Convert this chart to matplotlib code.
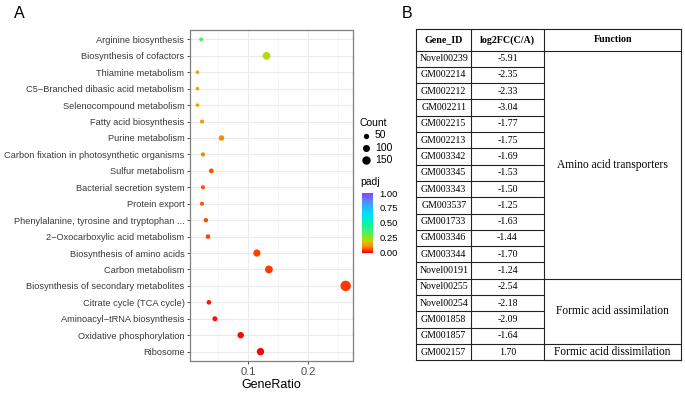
import matplotlib
matplotlib.use("Agg")
import matplotlib.pyplot as plt
import numpy as np
from matplotlib.colors import LinearSegmentedColormap

plt.rcParams['font.family'] = ['Liberation Sans', 'DejaVu Sans']

# ---- panel A data (KEGG enrichment) ----
pathways = ["Arginine biosynthesis", "Biosynthesis of cofactors", "Thiamine metabolism",
            "C5\u2212Branched dibasic acid metabolism", "Selenocompound metabolism",
            "Fatty acid biosynthesis", "Purine metabolism",
            "Carbon fixation in photosynthetic organisms", "Sulfur metabolism",
            "Bacterial secretion system", "Protein export",
            "Phenylalanine, tyrosine and tryptophan ...", "2\u2212Oxocarboxylic acid metabolism",
            "Biosynthesis of amino acids", "Carbon metabolism",
            "Biosynthesis of secondary metabolites", "Citrate cycle (TCA cycle)",
            "Aminoacyl\u2212tRNA biosynthesis", "Oxidative phosphorylation", "Ribosome"]
gene_ratio = [0.021, 0.130, 0.015, 0.015, 0.015, 0.0225, 0.055, 0.024, 0.038, 0.024,
              0.0225, 0.029, 0.0325, 0.114, 0.134, 0.262, 0.034, 0.044, 0.087, 0.120]
counts = [22, 125, 14, 14, 14, 24, 55, 25, 38, 25, 24, 30, 33, 108, 128, 240, 34, 43, 82, 112]
padj = [0.33, 0.21, 0.13, 0.13, 0.13, 0.12, 0.10, 0.09, 0.06, 0.06,
        0.065, 0.055, 0.05, 0.05, 0.045, 0.04, 0.012, 0.01, 0.004, 0.0]
legend_counts = [50, 100, 150]
padj_ticks = [0.0, 0.25, 0.5, 0.75, 1.0]

# ---- panel B data (table) ----
gene_ids = ["Novel00239", "GM002214", "GM002212", "GM002211", "GM002215", "GM002213",
            "GM003342", "GM003345", "GM003343", "GM003537", "GM001733", "GM003346",
            "GM003344", "Novel00191", "Novel00255", "Novel00254", "GM001858", "GM001857",
            "GM002157"]
log2fc = ["-5.91", "-2.35", "-2.33", "-3.04", "-1.77", "-1.75", "-1.69", "-1.53", "-1.50",
          "-1.25", "-1.63", "-1.44", "-1.70", "-1.24", "-2.54", "-2.18", "-2.09", "-1.64",
          "1.70"]
functions = ["Amino acid transporters", "Formic acid assimilation", "Formic acid dissimilation"]
function_rows = [14, 4, 1]
headers = ["Gene_ID", "log2FC(C/A)", "Function"]

W, H = 685, 393
fig = plt.figure(figsize=(W / 100, H / 100), dpi=100)


def fx(px):
    return px / W


def fy(py):
    return 1 - py / H


cmap = LinearSegmentedColormap.from_list("padj", [
    (0.0, "#FF0000"), (0.1, "#FF8C00"), (0.2, "#C2D600"), (0.32, "#55F055"),
    (0.5, "#00F5B0"), (0.65, "#00E0FF"), (0.82, "#3F9FFF"), (1.0, "#9040FF")])


def dot_size(c):
    return 0.22 * np.asarray(c, dtype=float) + 3.5


# ---- dot plot ----
ax = fig.add_axes([fx(190), fy(361), fx(352.7 - 190), (361 - 30) / H])
ypos = np.arange(len(pathways))
ax.scatter(gene_ratio, ypos, s=dot_size(counts), c=padj, cmap=cmap, vmin=0, vmax=1,
           zorder=3, linewidths=0)
ax.set_xlim(0.0025, 0.2737)
ax.set_ylim(len(pathways) - 0.43, -0.57)
ax.set_yticks(ypos)
ax.set_yticklabels(pathways, fontsize=6.65, color="#3a3a3a")
ax.set_xticks([0.1, 0.2])
ax.set_xticklabels(["0.1", "0.2"], fontsize=8, color="#4d4d4d")
ax.set_xticks([0.05, 0.15, 0.25], minor=True)
ax.grid(True, which="major", color="#ebebeb", linewidth=0.8)
ax.grid(True, which="minor", axis="x", color="#f2f2f2", linewidth=0.5)
ax.set_axisbelow(True)
ax.tick_params(axis="both", which="major", length=2.5, width=0.6, color="#333333", pad=1.5)
ax.tick_params(axis="x", which="minor", length=0)
for sp in ax.spines.values():
    sp.set_color("#7f7f7f")
    sp.set_linewidth(0.9)
ax.set_xlabel("GeneRatio", fontsize=9, labelpad=2)

fig.text(fx(14), fy(13), "A", fontsize=11.5, va="center", ha="left")
fig.text(fx(402), fy(13), "B", fontsize=11.5, va="center", ha="left")

# ---- legends ----
fig.text(fx(360), fy(123), "Count", fontsize=7.5, va="center", ha="left")
lax = fig.add_axes([0, 0, 1, 1], facecolor="none")
lax.set_xlim(0, W)
lax.set_ylim(H, 0)
lax.axis("off")
for i, c in enumerate(legend_counts):
    yy = 135.5 + i * 12.3
    lax.scatter([366.5], [yy], s=dot_size(c), color="black", linewidths=0)
    lax.text(375, yy, str(c), fontsize=7.5, va="center", ha="left")

fig.text(fx(360), fy(182), "padj", fontsize=7.5, va="center", ha="left")
cax = fig.add_axes([fx(361.5), fy(252.5), fx(11.5), (252.5 - 193) / H])
sm = plt.cm.ScalarMappable(cmap=cmap, norm=plt.Normalize(0, 1))
cb = fig.colorbar(sm, cax=cax, ticks=padj_ticks)
cb.outline.set_visible(False)
cb.ax.set_yticklabels(["%.2f" % t for t in padj_ticks])
cb.ax.tick_params(labelsize=6.8, length=2.5, color="white", width=0.6, pad=2)

# ---- table ----
tax = fig.add_axes([0, 0, 1, 1], facecolor="none")
tax.set_xlim(0, W)
tax.set_ylim(H, 0)
tax.axis("off")
col_x = [416.5, 471, 544, 681.5]
top, head_bot, row_h = 29, 50.5, 16.3
n = len(gene_ids)
bottom = head_bot + n * row_h
lw = 0.8
serif = ['Liberation Serif', 'DejaVu Serif']

for x in col_x:
    tax.plot([x, x], [top, bottom], color="#222222", lw=lw)
tax.plot([col_x[0], col_x[-1]], [top, top], color="#222222", lw=lw)
tax.plot([col_x[0], col_x[-1]], [head_bot, head_bot], color="#222222", lw=lw)
tax.plot([col_x[0], col_x[-1]], [bottom, bottom], color="#222222", lw=lw)
for i in range(1, n):
    yy = head_bot + i * row_h
    tax.plot([col_x[0], col_x[2]], [yy, yy], color="#222222", lw=lw)
start = 0
for f, k in zip(functions, function_rows):
    y0 = head_bot + start * row_h
    y1 = head_bot + (start + k) * row_h
    tax.plot([col_x[2], col_x[3]], [y1, y1], color="#222222", lw=lw)
    tax.text((col_x[2] + col_x[3]) / 2, (y0 + y1) / 2, f, fontsize=8.3, family=serif,
             ha="center", va="center")
    start += k

for j, h in enumerate(headers):
    tax.text((col_x[j] + col_x[j + 1]) / 2, (top + head_bot) / 2, h, fontsize=7.2,
             family=serif, weight="bold", ha="center", va="center")
for i in range(n):
    yy = head_bot + (i + 0.5) * row_h
    tax.text((col_x[0] + col_x[1]) / 2, yy, gene_ids[i], fontsize=7.1, family=serif,
             ha="center", va="center")
    tax.text((col_x[1] + col_x[2]) / 2, yy, log2fc[i], fontsize=7.1, family=serif,
             ha="center", va="center")

fig.savefig("out.png", dpi=100)
